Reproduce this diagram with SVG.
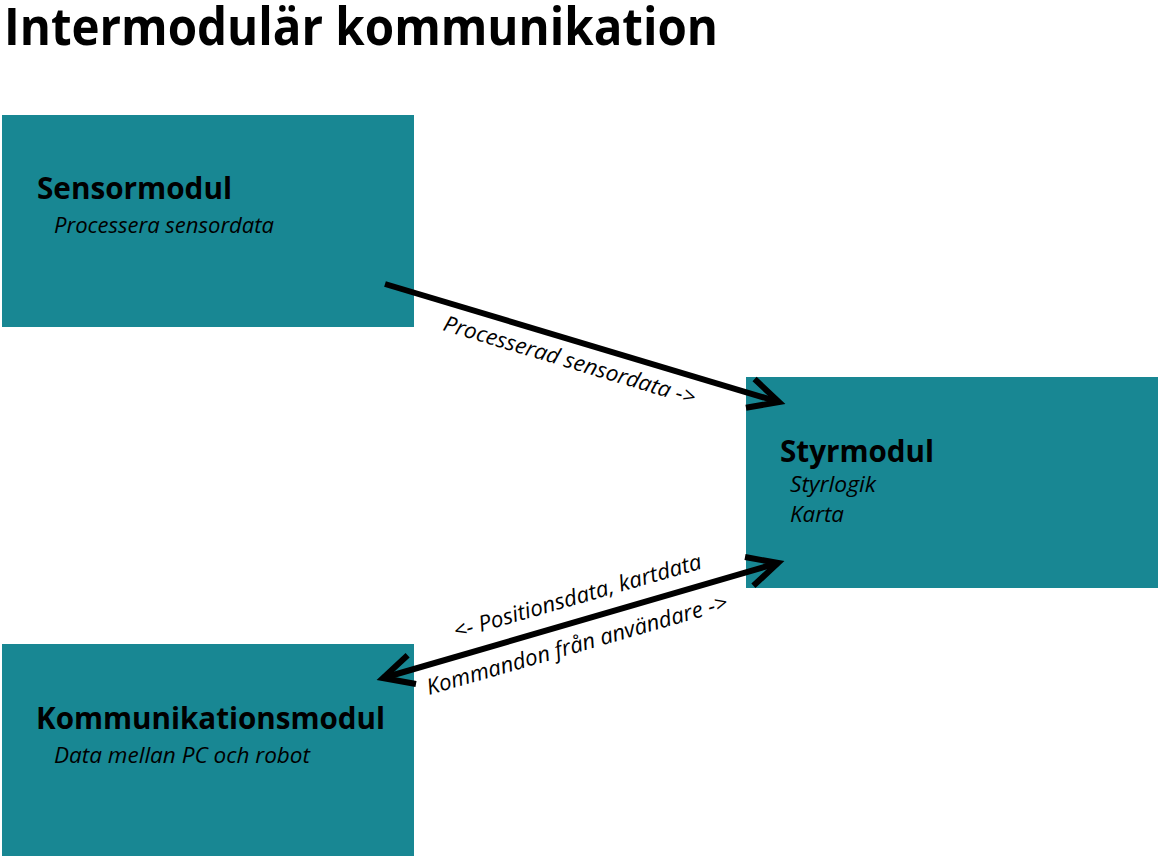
<svg xmlns="http://www.w3.org/2000/svg" width="1161" height="858" viewBox="0 0 1161 858">
<style>
.box{fill:#188793;}
.title{font-family:"Open Sans","Liberation Sans",sans-serif;font-weight:bold;font-size:52px;fill:#000;}
.head{font-family:"Open Sans","Liberation Sans",sans-serif;font-weight:bold;font-size:30px;fill:#000;}
.sub{font-family:"Open Sans","Liberation Sans",sans-serif;font-style:italic;font-size:21px;fill:#000;}
.lbl{font-family:"Open Sans","Liberation Sans",sans-serif;font-style:italic;font-size:22px;fill:#000;}
.conn{stroke:#000;stroke-width:6;fill:none;}
</style>
<defs>
<marker id="chev" markerUnits="userSpaceOnUse" orient="auto-start-reverse" refX="0" refY="0" markerWidth="80" markerHeight="80" overflow="visible">
<path d="M-30,-15 L0,0 L-30,15" fill="none" stroke="#000" stroke-width="6" stroke-linejoin="miter"/>
</marker>
</defs>
<rect width="1161" height="858" fill="#fff"/>
<text class="title" x="4" y="45" textLength="714" lengthAdjust="spacingAndGlyphs">Intermodulär kommunikation</text>
<g id="sensormodul">
<rect class="box" x="2" y="115" width="412" height="212"/>
<text class="head" x="37" y="199" textLength="195" lengthAdjust="spacingAndGlyphs">Sensormodul</text>
<text class="sub" x="54" y="233" textLength="220" lengthAdjust="spacingAndGlyphs">Processera sensordata</text>
</g>
<g id="styrmodul">
<rect class="box" x="746" y="377" width="412" height="211"/>
<text class="head" x="780" y="462" textLength="154" lengthAdjust="spacingAndGlyphs">Styrmodul</text>
<text class="sub" x="790" y="492" textLength="86" lengthAdjust="spacingAndGlyphs">Styrlogik</text>
<text class="sub" x="790" y="522" textLength="54" lengthAdjust="spacingAndGlyphs">Karta</text>
</g>
<g id="kommunikationsmodul">
<rect class="box" x="2" y="644" width="412" height="212"/>
<text class="head" x="36" y="729" textLength="349" lengthAdjust="spacingAndGlyphs">Kommunikationsmodul</text>
<text class="sub" x="54" y="763" textLength="256" lengthAdjust="spacingAndGlyphs">Data mellan PC och robot</text>
</g>
<g id="connectors">
<line class="conn" x1="385" y1="284" x2="779" y2="402" marker-end="url(#chev)"/>
<line class="conn" x1="383" y1="678" x2="778" y2="563" marker-start="url(#chev)" marker-end="url(#chev)"/>
<text class="lbl" transform="translate(442,330) rotate(16.7)" textLength="262" lengthAdjust="spacingAndGlyphs">Processerad sensordata -&gt;</text>
<text class="lbl" transform="translate(456,639) rotate(-16)" textLength="257" lengthAdjust="spacingAndGlyphs">&lt;- Positionsdata, kartdata</text>
<text class="lbl" transform="translate(429,695) rotate(-16)" textLength="312" lengthAdjust="spacingAndGlyphs">Kommandon från användare -&gt;</text>
</g>
</svg>
